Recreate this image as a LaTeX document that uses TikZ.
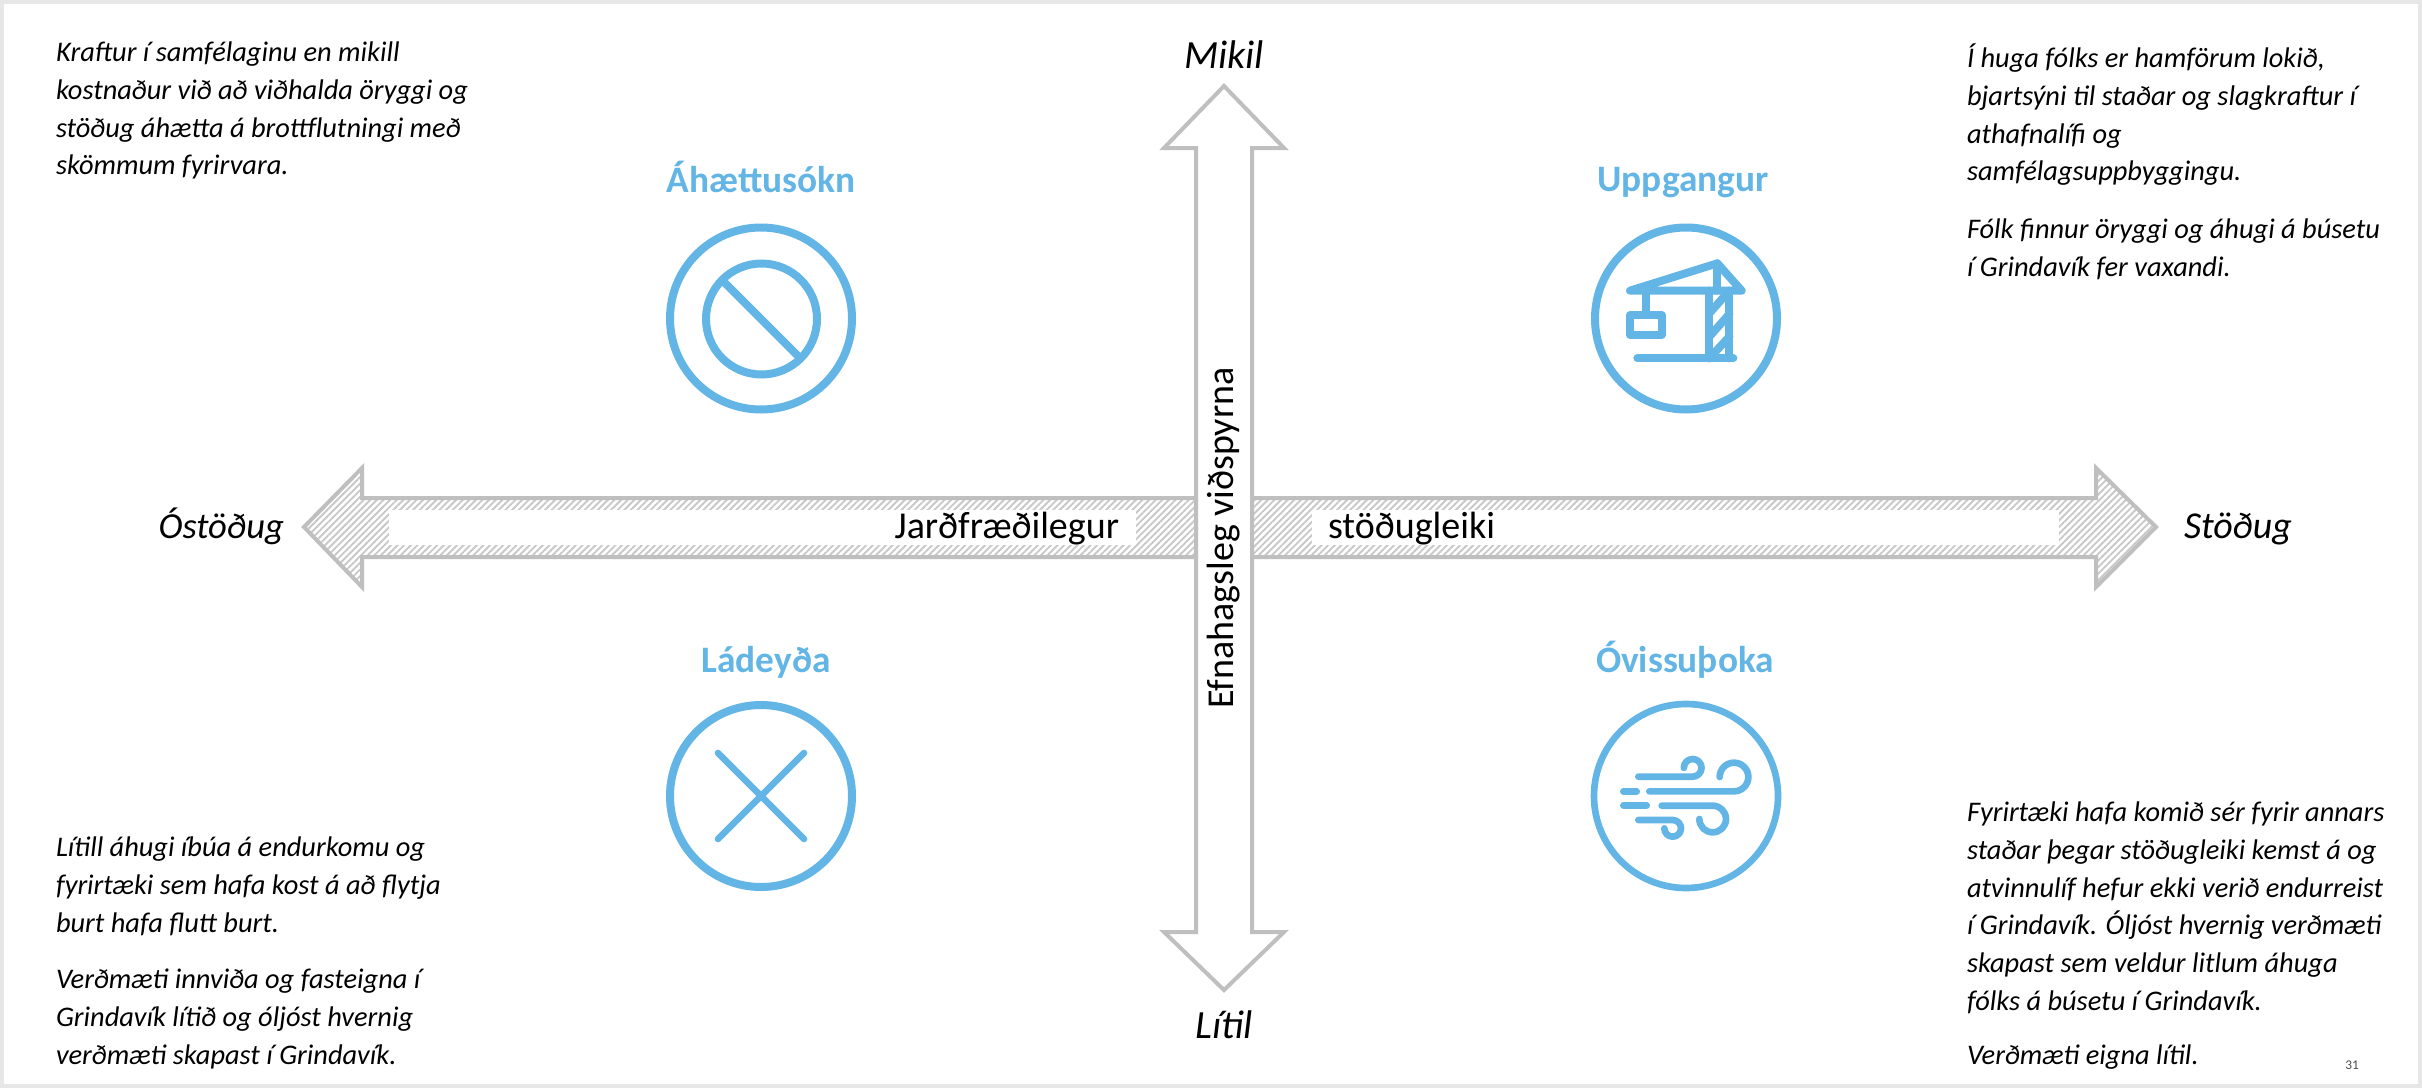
\documentclass[tikz,border=0pt]{standalone}
\usepackage{fontspec}
\setmainfont{Carlito}
\usetikzlibrary{patterns.meta}
\definecolor{iconblue}{HTML}{63B5E6}
\definecolor{arrowgray}{HTML}{BFBFBF}
\definecolor{framegray}{HTML}{E7E7E7}
\definecolor{hatchgray}{HTML}{C8C8C8}
\tikzset{
  body/.style={inner sep=0pt,outer sep=0pt,anchor=north west,align=left,text=black,font=\fontsize{21.3}{28.3}\selectfont\itshape},
  axislabel/.style={inner sep=0pt,outer sep=0pt,text=black,font=\fontsize{28.5}{34}\selectfont\itshape},
  axisname/.style={inner sep=0pt,outer sep=0pt,text=black,font=\fontsize{28.5}{34}\selectfont},
  quadtitle/.style={inner sep=0pt,outer sep=0pt,anchor=base,text=iconblue,font=\fontsize{28}{34}\selectfont\bfseries},
  ring/.style={draw=iconblue,line width=6pt},
  icon/.style={draw=iconblue,line width=6pt,line cap=round,line join=round},
  wind/.style={draw=iconblue,line width=5pt,line cap=round,line join=round},
  bigarrow/.style={draw=arrowgray,line width=3pt,miter limit=10},
  hatch/.style={pattern={Lines[angle=45,distance=3.5pt,line width=1.4pt]},pattern color=hatchgray},
  blank/.style={fill=white,draw=none,inner sep=0pt,outer sep=0pt}
}
\begin{document}
\begin{tikzpicture}[x=0.75pt,y=-0.75pt]
\useasboundingbox (0,0) rectangle (2422,1088);
\fill[white] (0,0) rectangle (2422,1088);
\draw[framegray,line width=3pt] (2,2) rectangle (2420,1086);

% horizontal arrow
\path[bigarrow,hatch] (304,527) -- (362,468) -- (362,498) -- (2096,498) -- (2096,468) -- (2156,527) -- (2096,587) -- (2096,557) -- (362,557) -- (362,587) -- cycle;
\node[blank,minimum width=560pt,minimum height=26.25pt,anchor=north west] (wl) at (389,510) {};
\node[blank,minimum width=560.25pt,minimum height=26.25pt,anchor=north west] (wr) at (1312,510) {};
\node[axisname,anchor=base east] (geo1) at (1119,538) {Jarðfræðilegur};
\node[axisname,anchor=base west] (geo2) at (1328,538) {stöðugleiki};

% vertical arrow
\path[bigarrow,fill=white] (1224,86) -- (1164,148) -- (1196,148) -- (1196,932) -- (1164,932) -- (1224,990) -- (1284,932) -- (1252,932) -- (1252,148) -- (1284,148) -- cycle;
\node[axisname,rotate=90] (econ) at (1224,538) {Efnahagsleg viðspyrna};

\node[axislabel,font=\fontsize{30}{36}\selectfont\itshape] (mikil) at (1224,55) {Mikil};
\node[axislabel,font=\fontsize{30}{36}\selectfont\itshape] (litil) at (1224,1025) {Lítil};
\node[axislabel,anchor=base east,font=\fontsize{27.5}{33}\selectfont\itshape] (ostodug) at (284,538) {Óstöðug};
\node[axislabel,anchor=base west] (stodug) at (2184,538) {Stöðug};

% titles
\node[quadtitle] (t1) at (761,192) {Áhættusókn};
\node[quadtitle] (t2) at (1683,191) {Uppgangur};
\node[quadtitle] (t3) at (766,672) {Ládeyða};
\node[quadtitle] (t4) at (1685,672) {Óvissuþoka};

% icon 1
\draw[ring] (761,318.5) circle[radius=91];
\draw[ring] (761.5,319) circle[radius=55.5];
\draw[icon,line cap=butt] (722,280) -- (801,359);

% icon 2: crane
\draw[ring] (1686,318.5) circle[radius=91];
\begin{scope}[shift={(1560,140)},x=0.25pt,y=-0.25pt]
\draw[icon] (210,452) -- (545,452) -- (472,370) -- cycle;
\draw[icon] (472,370) -- (472,452);
\draw[icon] (448,452) -- (448,655);
\draw[icon] (508,452) -- (508,655);
\draw[icon] (448,520) -- (508,452);
\draw[icon] (448,590) -- (508,522);
\draw[icon] (448,655) -- (508,590);
\draw[icon] (232,655) -- (520,655);
\draw[icon] (258,452) -- (258,525);
\draw[icon] (210,525) rectangle (305,585);
\end{scope}

% icon 3: cross
\draw[ring] (761,796) circle[radius=91];
\draw[wind] (718,753) -- (804,839);
\draw[wind] (804,753) -- (718,839);

% icon 4: wind
\draw[ring,line width=5pt] (1686,796) circle[radius=92];
\begin{scope}[shift={(1560,620)},x=0.25pt,y=-0.25pt]
\draw[wind] (235,470) -- (398,470) arc[start angle=90,end angle=-180,radius=26.5];
\draw[wind] (268,514) -- (522,514) arc[start angle=90,end angle=-180,radius=43];
\draw[wind] (190,514) -- (230,514);
\draw[wind] (190,556) -- (260,556);
\draw[wind] (305,557) -- (458,557) arc[start angle=-90,end angle=180,radius=40];
\draw[wind] (235,600) -- (338,600) arc[start angle=-90,end angle=180,radius=25];
\end{scope}

% body text
\node[body] (b1) at (56,42) {Kraftur í samfélaginu en mikill\\kostnaður við að viðhalda öryggi og\\stöðug áhætta á brottflutningi með\\skömmum fyrirvara.};
\node[body] (b2) at (1967,44) {Í huga fólks er hamförum lokið,\\bjartsýni til staðar og slagkraftur í\\athafnalífi og\\samfélagsuppbyggingu.\\[15pt]Fólk finnur öryggi og áhugi á búsetu\\í Grindavík fer vaxandi.};
\node[body] (b3) at (56,837) {Lítill áhugi íbúa á endurkomu og\\fyrirtæki sem hafa kost á að flytja\\burt hafa flutt burt.\\[14pt]Verðmæti innviða og fasteigna í\\Grindavík lítið og óljóst hvernig\\verðmæti skapast í Grindavík.};
\node[body] (b4) at (1967,802) {Fyrirtæki hafa komið sér fyrir annars\\staðar þegar stöðugleiki kemst á og\\atvinnulíf hefur ekki verið endurreist\\í Grindavík. Óljóst hvernig verðmæti\\skapast sem veldur litlum áhuga\\fólks á búsetu í Grindavík.\\[12pt]Verðmæti eigna lítil.};
\node[inner sep=0pt,font=\fontsize{10}{12}\selectfont,text=black!70] (pg) at (2352,1065) {31};
\end{tikzpicture}
\end{document}
